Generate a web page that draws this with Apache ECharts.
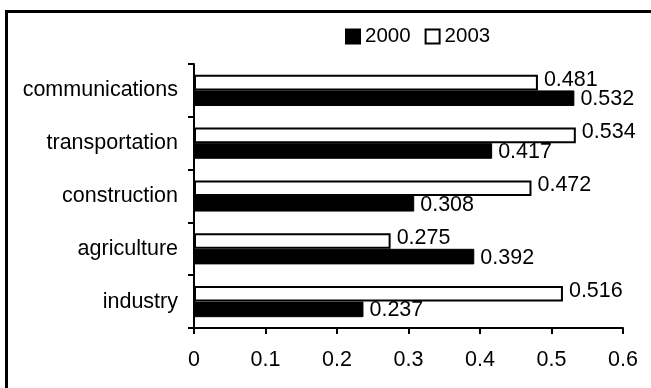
<!DOCTYPE html>
<html>
<head>
<meta charset="utf-8">
<script src="https://cdn.jsdelivr.net/npm/echarts@6/dist/echarts.min.js"></script>
<style>
  html, body { margin: 0; padding: 0; background: #fff; }
  #chart { width: 651px; height: 388px; }
</style>
</head>
<body>
<div id="chart"></div>
<script>
// Sectors, listed from bottom to top of the category axis
const categories = ['industry', 'agriculture', 'construction', 'transportation', 'communications'];
const values2000 = [0.237, 0.392, 0.308, 0.417, 0.532];
const values2003 = [0.516, 0.275, 0.472, 0.534, 0.481];
const seriesNames = ['2000', '2003'];
const xTicks = [0, 0.1, 0.2, 0.3, 0.4, 0.5, 0.6];

const FONT = '"Liberation Sans", Arial, sans-serif';
const FS = 21.5;

const chart = echarts.init(document.getElementById('chart'), null, { renderer: 'canvas' });

const valueLabel = (dy) => ({
  show: true, position: 'right', distance: 6, offset: [0, dy],
  fontFamily: FONT, fontSize: FS, color: '#000',
  formatter: p => p.value.toFixed(3)
});

chart.setOption({
  animation: false,
  backgroundColor: '#fff',
  textStyle: { fontFamily: FONT, color: '#000' },
  graphic: [{
    type: 'rect',
    shape: { x: 6.5, y: 11.5, width: 700, height: 500 },
    style: { fill: 'none', stroke: '#000', lineWidth: 3 },
    silent: true
  }],
  legend: {
    data: seriesNames,
    left: 340,
    top: 21,
    itemWidth: 14,
    itemHeight: 14,
    itemGap: 14,
    textStyle: { fontFamily: FONT, fontSize: 20.5, color: '#000' },
    icon: 'rect'
  },
  grid: { left: 194, right: 28, top: 64, bottom: 60, containLabel: false },
  xAxis: {
    type: 'value',
    min: xTicks[0],
    max: xTicks[xTicks.length - 1],
    interval: 0.1,
    axisLine: { show: true, lineStyle: { color: '#000', width: 2 } },
    axisTick: { show: true, length: 6, lineStyle: { color: '#000', width: 2 } },
    splitLine: { show: false },
    axisLabel: {
      fontFamily: FONT, fontSize: FS, color: '#000', margin: 21,
      formatter: v => String(Math.round(v * 10) / 10)
    }
  },
  yAxis: {
    type: 'category',
    data: categories,
    axisLine: { show: true, lineStyle: { color: '#000', width: 2 } },
    axisTick: { show: true, length: 6, lineStyle: { color: '#000', width: 2 } },
    axisLabel: { fontFamily: FONT, fontSize: FS, color: '#000', margin: 16 }
  },
  // 2003 is listed first so it sits in the upper half of each band
  series: [
    {
      name: '2003',
      type: 'bar',
      data: values2003,
      barGap: '0%',
      barCategoryGap: '41%',
      itemStyle: { color: '#fff', borderColor: '#000', borderWidth: 2 },
      label: valueLabel(-3)
    },
    {
      name: '2000',
      type: 'bar',
      data: values2000,
      barGap: '0%',
      barCategoryGap: '41%',
      itemStyle: { color: '#000', borderColor: '#000', borderWidth: 1 },
      label: valueLabel(1)
    }
  ]
});
</script>
</body>
</html>
